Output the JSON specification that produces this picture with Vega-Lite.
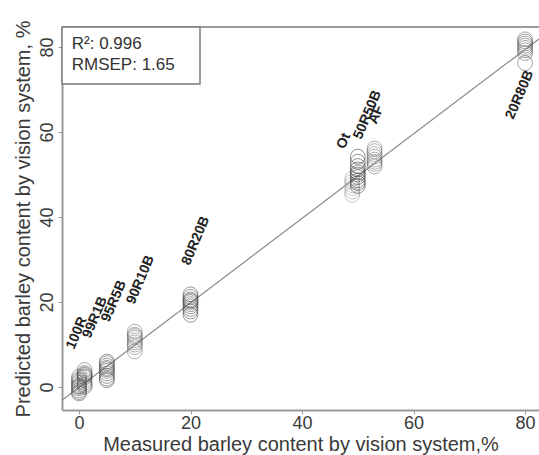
{
  "$schema": "https://vega.github.io/schema/vega-lite/v6.json",
  "width": 477,
  "height": 383,
  "autosize": {"type": "none"},
  "padding": {"left": 62, "top": 27, "right": 0, "bottom": 45},
  "background": "white",
  "config": {
    "view": {"stroke": null},
    "font": "Liberation Sans",
    "axis": {
      "grid": false,
      "domainColor": "#9a9a9a",
      "domainWidth": 2,
      "tickColor": "#9a9a9a",
      "tickSize": 4,
      "labelFont": "Liberation Sans",
      "labelFontSize": 18,
      "labelColor": "#3a3a3a",
      "titleFont": "Liberation Sans",
      "titleFontSize": 20,
      "titleFontWeight": "normal",
      "titleColor": "#3a3a3a"
    }
  },
  "datasets": {
    "points": [
      {"sample": "100R", "measured": 0, "predicted": 2.4},
      {"sample": "100R", "measured": 0, "predicted": 1.8},
      {"sample": "100R", "measured": 0, "predicted": 1.4},
      {"sample": "100R", "measured": 0, "predicted": 1.0},
      {"sample": "100R", "measured": 0, "predicted": 0.5},
      {"sample": "100R", "measured": 0, "predicted": 0.2},
      {"sample": "100R", "measured": 0, "predicted": 0.0},
      {"sample": "100R", "measured": 0, "predicted": -0.3},
      {"sample": "100R", "measured": 0, "predicted": -0.8},
      {"sample": "100R", "measured": 0, "predicted": -1.2},
      {"sample": "100R", "measured": 0, "predicted": -1.5},
      {"sample": "99R1B", "measured": 1, "predicted": 4.0},
      {"sample": "99R1B", "measured": 1, "predicted": 3.3},
      {"sample": "99R1B", "measured": 1, "predicted": 3.0},
      {"sample": "99R1B", "measured": 1, "predicted": 2.8},
      {"sample": "99R1B", "measured": 1, "predicted": 2.5},
      {"sample": "99R1B", "measured": 1, "predicted": 2.2},
      {"sample": "99R1B", "measured": 1, "predicted": 1.6},
      {"sample": "99R1B", "measured": 1, "predicted": 1.0},
      {"sample": "99R1B", "measured": 1, "predicted": 0.5},
      {"sample": "99R1B", "measured": 1, "predicted": 0.1},
      {"sample": "95R5B", "measured": 5, "predicted": 6.0},
      {"sample": "95R5B", "measured": 5, "predicted": 5.6},
      {"sample": "95R5B", "measured": 5, "predicted": 5.0},
      {"sample": "95R5B", "measured": 5, "predicted": 4.5},
      {"sample": "95R5B", "measured": 5, "predicted": 4.2},
      {"sample": "95R5B", "measured": 5, "predicted": 3.8},
      {"sample": "95R5B", "measured": 5, "predicted": 3.2},
      {"sample": "95R5B", "measured": 5, "predicted": 2.6},
      {"sample": "95R5B", "measured": 5, "predicted": 2.0},
      {"sample": "95R5B", "measured": 5, "predicted": 1.6},
      {"sample": "90R10B", "measured": 10, "predicted": 13.0},
      {"sample": "90R10B", "measured": 10, "predicted": 12.3},
      {"sample": "90R10B", "measured": 10, "predicted": 12.0},
      {"sample": "90R10B", "measured": 10, "predicted": 11.6},
      {"sample": "90R10B", "measured": 10, "predicted": 11.0},
      {"sample": "90R10B", "measured": 10, "predicted": 10.5},
      {"sample": "90R10B", "measured": 10, "predicted": 10.0},
      {"sample": "90R10B", "measured": 10, "predicted": 9.4},
      {"sample": "90R10B", "measured": 10, "predicted": 8.4},
      {"sample": "80R20B", "measured": 20, "predicted": 21.8},
      {"sample": "80R20B", "measured": 20, "predicted": 21.2},
      {"sample": "80R20B", "measured": 20, "predicted": 20.6},
      {"sample": "80R20B", "measured": 20, "predicted": 20.3},
      {"sample": "80R20B", "measured": 20, "predicted": 20.0},
      {"sample": "80R20B", "measured": 20, "predicted": 19.5},
      {"sample": "80R20B", "measured": 20, "predicted": 19.0},
      {"sample": "80R20B", "measured": 20, "predicted": 18.4},
      {"sample": "80R20B", "measured": 20, "predicted": 17.8},
      {"sample": "80R20B", "measured": 20, "predicted": 17.0},
      {"sample": "Ot", "measured": 49, "predicted": 49.0},
      {"sample": "Ot", "measured": 49, "predicted": 48.3},
      {"sample": "Ot", "measured": 49, "predicted": 47.5},
      {"sample": "Ot", "measured": 49, "predicted": 46.8},
      {"sample": "Ot", "measured": 49, "predicted": 46.0},
      {"sample": "Ot", "measured": 49, "predicted": 45.2},
      {"sample": "50R50B", "measured": 50, "predicted": 54.2},
      {"sample": "50R50B", "measured": 50, "predicted": 53.0},
      {"sample": "50R50B", "measured": 50, "predicted": 52.0},
      {"sample": "50R50B", "measured": 50, "predicted": 51.2},
      {"sample": "50R50B", "measured": 50, "predicted": 50.5},
      {"sample": "50R50B", "measured": 50, "predicted": 50.0},
      {"sample": "50R50B", "measured": 50, "predicted": 49.4},
      {"sample": "50R50B", "measured": 50, "predicted": 48.6},
      {"sample": "50R50B", "measured": 50, "predicted": 48.0},
      {"sample": "50R50B", "measured": 50, "predicted": 47.3},
      {"sample": "AF", "measured": 53, "predicted": 56.1},
      {"sample": "AF", "measured": 53, "predicted": 55.5},
      {"sample": "AF", "measured": 53, "predicted": 54.8},
      {"sample": "AF", "measured": 53, "predicted": 54.2},
      {"sample": "AF", "measured": 53, "predicted": 53.5},
      {"sample": "AF", "measured": 53, "predicted": 53.0},
      {"sample": "AF", "measured": 53, "predicted": 52.5},
      {"sample": "AF", "measured": 53, "predicted": 51.9},
      {"sample": "20R80B", "measured": 80, "predicted": 81.8},
      {"sample": "20R80B", "measured": 80, "predicted": 81.3},
      {"sample": "20R80B", "measured": 80, "predicted": 80.8},
      {"sample": "20R80B", "measured": 80, "predicted": 80.3},
      {"sample": "20R80B", "measured": 80, "predicted": 79.8},
      {"sample": "20R80B", "measured": 80, "predicted": 79.2},
      {"sample": "20R80B", "measured": 80, "predicted": 78.6},
      {"sample": "20R80B", "measured": 80, "predicted": 76.2}
    ],
    "labels": [
      {"sample": "100R", "lx": -0.9, "ly": 8.7},
      {"sample": "99R1B", "lx": 2.0, "ly": 11.3},
      {"sample": "95R5B", "lx": 5.4, "ly": 15.1},
      {"sample": "90R10B", "lx": 9.9, "ly": 19.3},
      {"sample": "80R20B", "lx": 19.8, "ly": 28.5},
      {"sample": "Ot", "lx": 47.6, "ly": 55.8},
      {"sample": "50R50B", "lx": 50.6, "ly": 58.1},
      {"sample": "AF", "lx": 53.3, "ly": 61.7},
      {"sample": "20R80B", "lx": 77.9, "ly": 62.8}
    ],
    "fit": [
      {"measured": -3.05, "predicted": -3.1},
      {"measured": 82.5, "predicted": 81.9}
    ],
    "box": [
      {"x1": -3.05, "x2": 21.7, "y1": 71.3, "y2": 84.7}
    ],
    "stats": [
      {"text": "R²: 0.996", "tx": -1.3, "ty": 80.6},
      {"text": "RMSEP: 1.65", "tx": -1.3, "ty": 75.8}
    ],
    "frame": [
      {"top": 84.7}
    ]
  },
  "layer": [
    {
      "data": {"name": "fit"},
      "mark": {"type": "line", "color": "#8a8a8a", "strokeWidth": 1.2, "clip": true},
      "encoding": {
        "x": {
          "field": "measured", "type": "quantitative",
          "scale": {"domain": [-3.05, 82.5], "nice": false, "zero": false},
          "axis": {"values": [0, 20, 40, 60, 80], "title": "Measured barley content by vision system,%", "titlePadding": 2, "labelPadding": 0}
        },
        "y": {
          "field": "predicted", "type": "quantitative",
          "scale": {"domain": [-5.4, 84.7], "nice": false, "zero": false},
          "axis": {"values": [0, 20, 40, 60, 80], "labelAngle": -90, "labelAlign": "center", "labelBaseline": "bottom", "labelPadding": 2, "title": "Predicted barley content by vision system, %", "titlePadding": 5}
        }
      }
    },
    {
      "data": {"name": "frame"},
      "mark": {"type": "rule", "color": "#9a9a9a", "strokeWidth": 2},
      "encoding": {"y": {"field": "top", "type": "quantitative"}}
    },
    {
      "data": {"name": "box"},
      "mark": {"type": "rect", "fill": "white", "stroke": "#7a7a7a", "strokeWidth": 1.5},
      "encoding": {
        "x": {"field": "x1", "type": "quantitative"},
        "x2": {"field": "x2"},
        "y": {"field": "y1", "type": "quantitative"},
        "y2": {"field": "y2"}
      }
    },
    {
      "data": {"name": "stats"},
      "mark": {"type": "text", "align": "left", "baseline": "middle", "fontSize": 17, "color": "#333333", "font": "Liberation Sans"},
      "encoding": {
        "x": {"field": "tx", "type": "quantitative"},
        "y": {"field": "ty", "type": "quantitative"},
        "text": {"field": "text"}
      }
    },
    {
      "data": {"name": "points"},
      "mark": {"type": "point", "shape": "circle", "filled": false, "size": 220, "strokeWidth": 1, "strokeOpacity": 0.8},
      "encoding": {
        "x": {"field": "measured", "type": "quantitative"},
        "y": {"field": "predicted", "type": "quantitative"},
        "color": {
          "field": "sample", "type": "nominal", "legend": null,
          "scale": {
            "domain": ["100R", "99R1B", "95R5B", "90R10B", "80R20B", "Ot", "50R50B", "AF", "20R80B"],
            "range": ["#5e5e5e", "#5e5e5e", "#505050", "#707070", "#4a4a4a", "#a0a0a0", "#3a3a3a", "#707070", "#5e5e5e"]
          }
        }
      }
    },
    {
      "data": {"name": "labels"},
      "mark": {"type": "text", "align": "left", "baseline": "alphabetic", "angle": -67, "fontSize": 14, "fontWeight": "bold", "color": "#222222", "font": "Liberation Sans"},
      "encoding": {
        "x": {"field": "lx", "type": "quantitative"},
        "y": {"field": "ly", "type": "quantitative"},
        "text": {"field": "sample"}
      }
    }
  ]
}
